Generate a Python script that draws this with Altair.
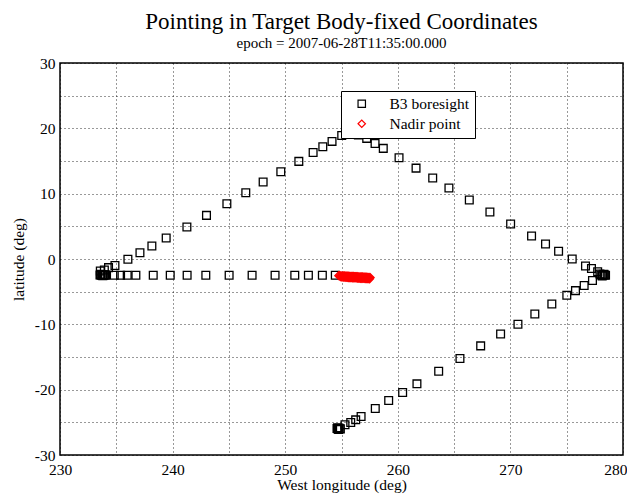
import altair as alt
import pandas as pd

FONT = "Liberation Serif"

# B3 boresight track (West longitude, latitude)
bore_lon = [
    # left cluster
    233.55, 233.65, 233.75, 233.85, 233.95, 234.05, 233.60, 233.80, 234.00,
    # horizontal leg
    234.82, 235.38, 235.97, 236.74, 238.28, 239.79, 241.29, 242.95, 245.02,
    247.06, 249.10, 250.85, 252.06, 253.30, 254.45,
    # left ascending leg
    233.58, 233.94, 234.31, 234.88, 236.03, 237.10, 238.16, 239.43, 241.27,
    243.01, 244.82, 246.50, 248.04, 249.61, 251.21, 252.48, 253.34, 254.16,
    255.02, 256.50,
    # right descending leg
    257.24, 257.98, 258.71, 260.11, 261.62, 263.10, 264.54, 266.35, 268.18,
    270.02, 271.88, 273.12, 274.28, 275.49, 276.67, 277.20, 277.75,
    # right cluster
    277.95, 278.05, 278.20, 278.35, 278.45, 278.15, 278.30,
    # lower ascending leg
    277.29, 276.55, 275.78, 275.01, 273.68, 272.17, 270.67, 269.13, 267.36,
    265.52, 263.63, 261.70, 260.43, 259.19, 258.00, 256.74, 256.26, 255.82,
    255.31,
    # bottom cluster
    254.60, 254.70, 254.80, 254.90, 254.75, 254.65,
]
bore_lat = [
    -2.45, -2.50, -2.45, -2.50, -2.45, -2.50, -2.35, -2.55, -2.40,
    -2.50, -2.50, -2.50, -2.50, -2.50, -2.50, -2.50, -2.50, -2.50,
    -2.50, -2.50, -2.50, -2.50, -2.50, -2.50,
    -1.83, -1.68, -1.32, -1.00, -0.05, 0.97, 1.99, 3.21, 4.89,
    6.68, 8.47, 10.15, 11.78, 13.36, 14.94, 16.31, 17.19, 18.00,
    18.91, 19.00,
    18.46, 17.69, 16.93, 15.50, 13.91, 12.39, 10.86, 9.02, 7.19,
    5.35, 3.52, 2.29, 1.18, 0.00, -1.07, -1.45, -1.95,
    -2.30, -2.45, -2.50, -2.45, -2.50, -2.60, -2.35,
    -3.30, -4.07, -4.84, -5.55, -6.88, -8.41, -9.98, -11.47, -13.30,
    -15.23, -17.17, -19.11, -20.43, -21.65, -22.87, -24.10, -24.62, -25.02,
    -25.38,
    -25.95, -26.05, -25.90, -26.00, -26.10, -25.85,
]

# Nadir point track (dense smear)
nadir_lon = [
    254.75, 254.85, 254.95, 255.05, 255.15, 255.25, 255.35, 255.45, 255.55,
    255.65, 255.75, 255.85, 255.95, 256.05, 256.15, 256.25, 256.35, 256.45,
    256.55, 256.65, 256.75, 256.85, 256.95, 257.05, 257.15, 257.25, 257.35,
    257.45, 257.55,
    254.90, 255.00, 255.10, 255.20, 255.30, 255.40, 255.50, 255.60, 255.70,
    255.80, 255.90, 256.00, 256.10, 256.20, 256.30, 256.40, 256.50, 256.60,
    256.70, 256.80, 256.90, 257.00, 257.10, 257.20, 257.30, 257.40, 257.50,
]
nadir_lat = [
    -2.55, -2.55, -2.56, -2.57, -2.57, -2.58, -2.59, -2.60, -2.61,
    -2.62, -2.63, -2.64, -2.65, -2.66, -2.67, -2.68, -2.69, -2.70,
    -2.71, -2.72, -2.73, -2.74, -2.75, -2.76, -2.77, -2.78, -2.79,
    -2.80, -2.82,
    -2.72, -2.74, -2.76, -2.78, -2.80, -2.82, -2.84, -2.85, -2.86,
    -2.87, -2.88, -2.89, -2.90, -2.91, -2.92, -2.93, -2.94, -2.95,
    -2.96, -2.97, -2.98, -2.99, -3.00, -3.01, -3.02, -3.03, -3.04,
]

series_names = ["B3 boresight", "Nadir point"]
x_grid = [230, 235, 240, 245, 250, 255, 260, 265, 270, 275, 280]
y_grid = [-30, -25, -20, -15, -10, -5, 0, 5, 10, 15, 20, 25, 30]

df = pd.DataFrame({
    "lon": bore_lon + nadir_lon,
    "lat": bore_lat + nadir_lat,
    "series": [series_names[0]] * len(bore_lon) + [series_names[1]] * len(nadir_lon),
})

legend = alt.Legend(
    title=None, orient="none", legendX=281, legendY=28,
    fillColor="white", strokeColor="black",
    padding=5, rowPadding=3, symbolOffset=8, labelOffset=20,
    labelFont=FONT, labelFontSize=15.5, labelColor="black",
    symbolStrokeWidth=1.2, symbolSize=55,
)

chart = alt.Chart(df).mark_point(filled=False, size=60, strokeWidth=1.3, opacity=1).encode(
    x=alt.X("lon:Q", scale=alt.Scale(domain=[230, 280], nice=False, zero=False),
            axis=alt.Axis(values=x_grid, title="West longitude (deg)",
                          labelExpr="datum.value % 10 == 0 ? '' + datum.value : ''",
                          labelFlush=False, labelOverlap=False,
                          labelAlign={"condition": {"test": "datum.value == 280", "value": "right"},
                                      "value": "center"},
                          labelOffset={"condition": {"test": "datum.value == 280", "value": 4},
                                       "value": 0},
                          labelPadding=7, titlePadding=0)),
    y=alt.Y("lat:Q", scale=alt.Scale(domain=[-30, 30], nice=False, zero=False),
            axis=alt.Axis(values=y_grid, title="latitude (deg)",
                          labelExpr="datum.value % 10 == 0 ? '' + datum.value : ''",
                          labelFlush=False, labelOverlap=False,
                          labelPadding=5, titlePadding=8)),
    color=alt.Color("series:N", scale=alt.Scale(domain=series_names, range=["black", "red"]), legend=legend),
    shape=alt.Shape("series:N", scale=alt.Scale(domain=series_names, range=["square", "diamond"]), legend=legend),
).properties(
    width=563, height=392,
    title=alt.TitleParams(
        text="Pointing in Target Body-fixed Coordinates",
        subtitle="epoch = 2007-06-28T11:35:00.000",
        font=FONT, fontSize=23, fontWeight="normal", color="black",
        subtitleFont=FONT, subtitleFontSize=15, subtitleColor="black",
        anchor="middle", frame="group", offset=5, subtitlePadding=2,
    ),
    autosize=alt.AutoSizeParams(type="none"),
    padding={"left": 52, "top": 55, "right": 4, "bottom": 40},
).configure_view(
    stroke="black", strokeWidth=1.5
).configure_axis(
    grid=True, gridColor="black", gridDash=[1, 3], gridOpacity=0.8, gridWidth=1,
    domain=False, ticks=False,
    labelFont=FONT, labelFontSize=15.5, labelColor="black",
    titleFont=FONT, titleFontSize=15.5, titleFontWeight="normal", titleColor="black",
)

chart.save("out.html", embed_options={"renderer": "svg", "actions": False})
